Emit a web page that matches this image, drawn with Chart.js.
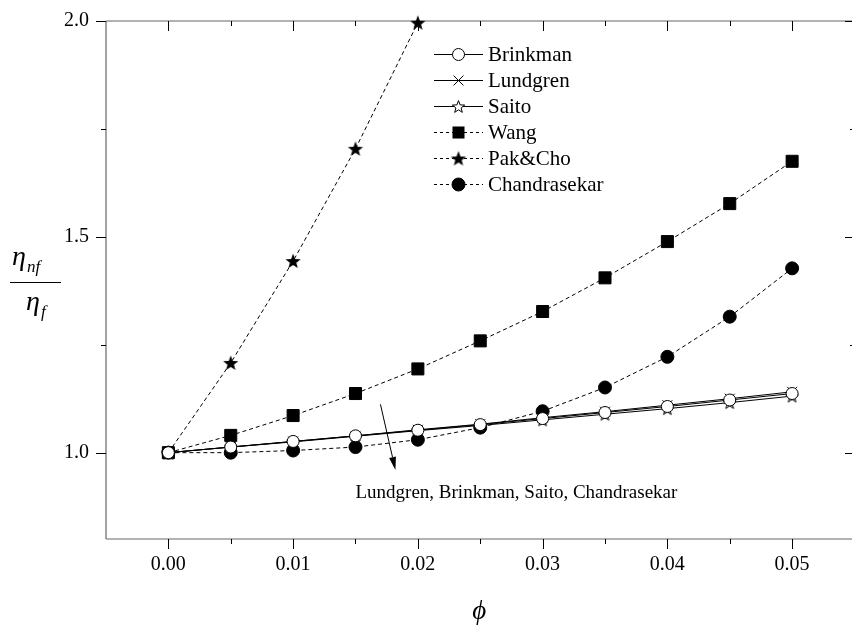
<!DOCTYPE html>
<html>
<head>
<meta charset="utf-8">
<script src="https://cdn.jsdelivr.net/npm/chart.js@4.4.1/dist/chart.umd.min.js"></script>
<style>
  html, body { margin: 0; padding: 0; overflow: hidden; background: #fff; }
  #viscosity { display: block; }
</style>
</head>
<body>
<canvas id="viscosity" width="852" height="626"></canvas>
<script>
// volume fraction (x) and relative viscosity (y)
const phi = [0, 0.005, 0.01, 0.015, 0.02, 0.025, 0.03, 0.035, 0.04, 0.045, 0.05];
const phiPakCho = [0, 0.005, 0.01, 0.015, 0.02];

const brinkman = [1.000, 1.013, 1.026, 1.039, 1.052, 1.065, 1.079, 1.093, 1.107, 1.122, 1.137];
const lundgren = [1.000, 1.013, 1.026, 1.039, 1.053, 1.066, 1.081, 1.095, 1.110, 1.125, 1.141];
const saito = [1.000, 1.013, 1.025, 1.038, 1.051, 1.063, 1.076, 1.089, 1.102, 1.116, 1.131];
const wang = [1.000, 1.040, 1.086, 1.137, 1.194, 1.259, 1.327, 1.405, 1.489, 1.577, 1.675];
const pakCho = [1.000, 1.208, 1.444, 1.704, 1.996];
const chandrasekar = [1.000, 1.000, 1.005, 1.013, 1.030, 1.058, 1.096, 1.151, 1.222, 1.315, 1.427];

const xMajorTicks = [0, 0.01, 0.02, 0.03, 0.04, 0.05];
const xMinorTicks = [0.005, 0.015, 0.025, 0.035, 0.045];
const yMajorTicks = [1.0, 1.5, 2.0];
const yMinorTicks = [1.25, 1.75];

// arrow pointing at the low group of models (data units)
const arrowFrom = { x: 0.0170, y: 1.112 };
const arrowTo = { x: 0.0182, y: 0.960 };
const noteText = 'Lundgren, Brinkman, Saito, Chandrasekar';
const notePos = { x: 0.0279, y: 0.907 };

const FONT = "'Liberation Serif', 'Times New Roman', serif";

// 5 point stars for Saito (open) and Pak&Cho (filled)
function makeStar(r, filled) {
  const c = document.createElement('canvas');
  const s = Math.ceil(r * 2 + 4);
  c.width = s; c.height = s;
  const g = c.getContext('2d');
  g.beginPath();
  for (let i = 0; i < 10; i++) {
    const rr = i % 2 === 0 ? r : r * 0.42;
    const a = -Math.PI / 2 + i * Math.PI / 5;
    const px = s / 2 + rr * Math.cos(a);
    const py = s / 2 + 0.6 + rr * Math.sin(a);
    if (i === 0) g.moveTo(px, py); else g.lineTo(px, py);
  }
  g.closePath();
  if (filled) {
    g.fillStyle = '#000';
    g.fill();
  } else {
    g.fillStyle = '#fff';
    g.fill();
    g.lineWidth = 1;
    g.strokeStyle = '#000';
    g.stroke();
  }
  return c;
}
const openStar = makeStar(6.5, false);
const fullStar = makeStar(8, true);

const pts = (xs, ys) => xs.map((x, i) => ({ x: x, y: ys[i] }));

const datasets = [
  { label: 'Brinkman', data: pts(phi, brinkman), borderDash: [], pointStyle: 'circle', pointRadius: 6, pointBackgroundColor: '#fff' },
  { label: 'Lundgren', data: pts(phi, lundgren), borderDash: [], pointStyle: 'crossRot', pointRadius: 7, pointBackgroundColor: '#000' },
  { label: 'Saito', data: pts(phi, saito), borderDash: [], pointStyle: openStar, pointRadius: 7, pointBackgroundColor: '#fff' },
  { label: 'Wang', data: pts(phi, wang), borderDash: [4, 3], pointStyle: 'rect', pointRadius: 8.5, pointBackgroundColor: '#000' },
  { label: 'Pak&Cho', data: pts(phiPakCho, pakCho), borderDash: [4, 3], pointStyle: fullStar, pointRadius: 8, pointBackgroundColor: '#000' },
  { label: 'Chandrasekar', data: pts(phi, chandrasekar), borderDash: [4, 3], pointStyle: 'circle', pointRadius: 6.5, pointBackgroundColor: '#000' }
].map(d => Object.assign({
  borderColor: '#000',
  borderWidth: 1,
  pointBorderColor: '#000',
  pointBorderWidth: 1,
  pointHoverRadius: d.pointRadius,
  tension: 0,
  clip: false
}, d));

function drawMarker(ctx, ds, x, y) {
  const r = ds.pointRadius;
  ctx.save();
  ctx.setLineDash([]);
  ctx.lineWidth = 1;
  ctx.strokeStyle = '#000';
  ctx.fillStyle = ds.pointBackgroundColor;
  if (typeof ds.pointStyle !== 'string') {
    const img = ds.pointStyle;
    ctx.drawImage(img, x - img.width / 2, y - img.height / 2);
  } else if (ds.pointStyle === 'circle') {
    ctx.beginPath();
    ctx.arc(x, y, r, 0, Math.PI * 2);
    ctx.fill();
    ctx.stroke();
  } else if (ds.pointStyle === 'crossRot') {
    const d = r * Math.SQRT1_2;
    ctx.beginPath();
    ctx.moveTo(x - d, y - d); ctx.lineTo(x + d, y + d);
    ctx.moveTo(x - d, y + d); ctx.lineTo(x + d, y - d);
    ctx.stroke();
  } else if (ds.pointStyle === 'rect') {
    const h = r * Math.SQRT1_2;
    ctx.fillRect(x - h, y - h, 2 * h, 2 * h);
  }
  ctx.restore();
}

// axes frame, inside/outside ticks, titles
const framePlugin = {
  id: 'framePlugin',
  beforeDatasetsDraw(chart) {
    const { ctx, chartArea: a, scales: { x, y } } = chart;
    ctx.save();
    ctx.strokeStyle = '#666';
    ctx.lineWidth = 1.2;
    ctx.beginPath();
    ctx.moveTo(a.left, a.top); ctx.lineTo(a.right, a.top);
    ctx.moveTo(a.left, a.top); ctx.lineTo(a.left, a.bottom);
    ctx.moveTo(a.left, a.bottom); ctx.lineTo(a.right, a.bottom);
    ctx.stroke();

    ctx.strokeStyle = '#000';
    ctx.lineWidth = 1;
    ctx.beginPath();
    const xt = xMajorTicks.map(v => [v, 10]).concat(xMinorTicks.map(v => [v, 5]));
    xt.forEach(([v, len]) => {
      const px = Math.round(x.getPixelForValue(v)) + 0.5;
      ctx.moveTo(px, a.bottom); ctx.lineTo(px, a.bottom + len);
      ctx.moveTo(px, a.top); ctx.lineTo(px, a.top + len);
    });
    const yt = yMajorTicks.map(v => [v, 10]).concat(yMinorTicks.map(v => [v, 5]));
    yt.forEach(([v, len]) => {
      const py = Math.round(y.getPixelForValue(v)) + 0.5;
      ctx.moveTo(a.left, py); ctx.lineTo(a.left - len, py);
      ctx.moveTo(a.right + 3, py); ctx.lineTo(a.right + 3 - len, py);
    });
    ctx.stroke();
    ctx.restore();
  },
  afterDraw(chart) {
    const { ctx, scales: { x, y } } = chart;
    ctx.save();
    ctx.fillStyle = '#000';
    ctx.strokeStyle = '#000';

    // y title: eta_nf / eta_f
    ctx.textBaseline = 'alphabetic';
    ctx.textAlign = 'left';
    ctx.font = 'italic 28px ' + FONT;
    ctx.fillText('\u03B7', 12, 265);
    const w1 = ctx.measureText('\u03B7').width;
    ctx.fillText('\u03B7', 26, 310);
    const w2 = ctx.measureText('\u03B7').width;
    ctx.font = 'italic 17px ' + FONT;
    ctx.fillText('nf', 12 + w1 + 1, 272);
    ctx.fillText('f', 26 + w2 + 1, 317);
    ctx.lineWidth = 1;
    ctx.beginPath();
    ctx.moveTo(10, 282.5); ctx.lineTo(61, 282.5);
    ctx.stroke();

    // x title
    ctx.textAlign = 'center';
    ctx.font = 'italic 27px ' + FONT;
    ctx.fillText('\u03D5', x.getPixelForValue(0.025) - 1, 619);

    // legend
    const lx = 434, ly = 54, rowH = 25.9, lineLen = 49;
    ctx.textAlign = 'left';
    ctx.textBaseline = 'middle';
    chart.data.datasets.forEach((ds, i) => {
      const yy = Math.round(ly + i * rowH) + 0.5;
      ctx.save();
      ctx.lineWidth = 1;
      ctx.setLineDash(ds.borderDash.length ? [3, 3] : []);
      ctx.beginPath();
      ctx.moveTo(lx, yy); ctx.lineTo(lx + lineLen, yy);
      ctx.stroke();
      ctx.restore();
      drawMarker(ctx, ds, lx + lineLen / 2, yy);
      ctx.font = '21px ' + FONT;
      ctx.fillStyle = '#000';
      ctx.fillText(ds.label, lx + lineLen + 5, yy + 1);
    });

    // arrow + note
    const x0 = x.getPixelForValue(arrowFrom.x), y0 = y.getPixelForValue(arrowFrom.y);
    const x1 = x.getPixelForValue(arrowTo.x), y1 = y.getPixelForValue(arrowTo.y);
    const ang = Math.atan2(y1 - y0, x1 - x0);
    const head = 13, half = 3.5;
    const bx = x1 - head * Math.cos(ang), by = y1 - head * Math.sin(ang);
    ctx.lineWidth = 1;
    ctx.beginPath();
    ctx.moveTo(x0, y0); ctx.lineTo(bx, by);
    ctx.stroke();
    ctx.beginPath();
    ctx.moveTo(x1, y1);
    ctx.lineTo(bx + half * Math.sin(ang), by - half * Math.cos(ang));
    ctx.lineTo(bx - half * Math.sin(ang), by + half * Math.cos(ang));
    ctx.closePath();
    ctx.fill();

    ctx.font = '19px ' + FONT;
    ctx.textAlign = 'center';
    ctx.textBaseline = 'middle';
    ctx.fillText(noteText, x.getPixelForValue(notePos.x), y.getPixelForValue(notePos.y));
    ctx.restore();
  }
};

new Chart(document.getElementById('viscosity'), {
  type: 'line',
  data: { datasets: datasets },
  options: {
    responsive: false,
    animation: false,
    devicePixelRatio: 1,
    layout: { autoPadding: false, padding: { left: 0, right: 0, top: 21, bottom: 0 } },
    plugins: { legend: { display: false }, tooltip: { enabled: false } },
    scales: {
      x: {
        type: 'linear',
        min: -0.005,
        max: 0.0548,
        afterFit: s => { s.height = 87; s.paddingLeft = 0; s.paddingRight = 0; },
        afterBuildTicks: s => { s.ticks = xMajorTicks.map(v => ({ value: v })); },
        grid: { display: false, drawTicks: false },
        border: { display: false },
        ticks: {
          autoSkip: false,
          maxRotation: 0,
          padding: 14,
          color: '#000',
          font: { family: FONT, size: 20 },
          callback: v => v.toFixed(2)
        }
      },
      y: {
        min: 0.8,
        max: 2.0,
        afterFit: s => { s.width = 106; s.paddingTop = 0; s.paddingBottom = 0; },
        afterBuildTicks: s => { s.ticks = yMajorTicks.map(v => ({ value: v })); },
        grid: { display: false, drawTicks: false },
        border: { display: false },
        ticks: {
          padding: 17,
          color: '#000',
          font: { family: FONT, size: 20 },
          callback: v => v.toFixed(1)
        }
      }
    }
  },
  plugins: [framePlugin]
});
</script>
</body>
</html>
